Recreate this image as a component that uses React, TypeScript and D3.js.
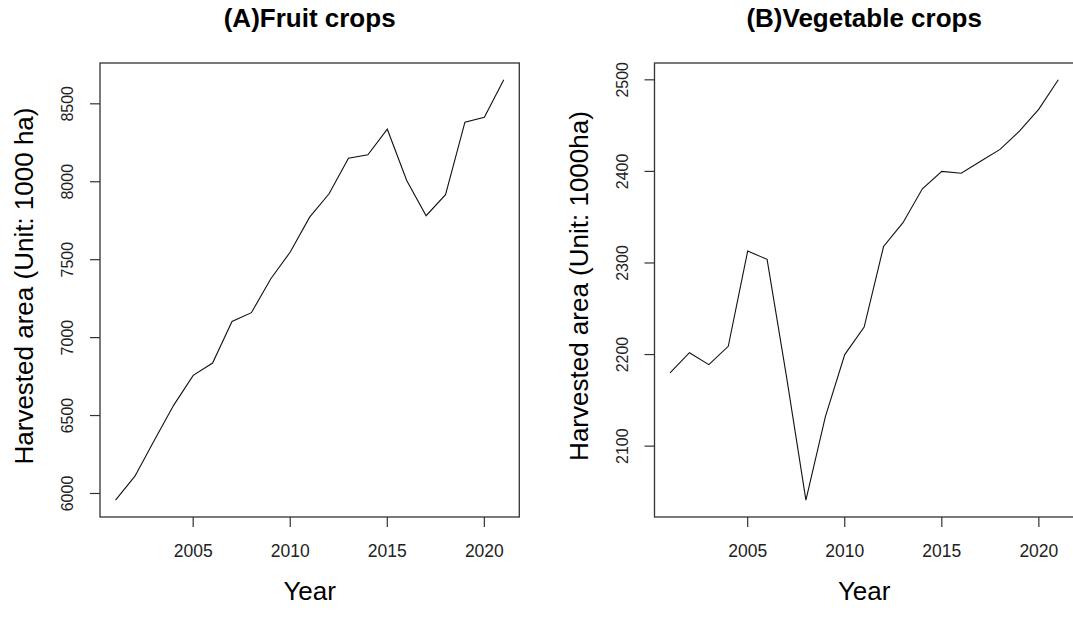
import React from "react";
import * as d3 from "d3";

const years: number[] = [2001, 2002, 2003, 2004, 2005, 2006, 2007, 2008, 2009, 2010, 2011, 2012, 2013, 2014, 2015, 2016, 2017, 2018, 2019, 2020, 2021];
const fruitArea: number[] = [5957, 6111, 6342, 6567, 6758, 6837, 7104, 7160, 7378, 7549, 7773, 7923, 8151, 8173, 8337, 8008, 7782, 7917, 8382, 8414, 8654];
const vegArea: number[] = [2180, 2202, 2189, 2209, 2313, 2304, 2176, 2041, 2132, 2200, 2230, 2318, 2344, 2381, 2400, 2398, 2411, 2424, 2444, 2468, 2500];
const xTicks: number[] = [2005, 2010, 2015, 2020];
const fruitTicks: number[] = [6000, 6500, 7000, 7500, 8000, 8500];
const vegTicks: number[] = [2100, 2200, 2300, 2400, 2500];

const FONT = "'Liberation Sans', Arial, Helvetica, sans-serif";

type PanelProps = {
  left: number;
  title: string;
  ylabel: string;
  values: number[];
  yTicks: number[];
};

function pad(ext: [number, number]): [number, number] {
  const r = ext[1] - ext[0];
  return [ext[0] - 0.04 * r, ext[1] + 0.04 * r];
}

function Panel({ left, title, ylabel, values, yTicks }: PanelProps) {
  const width = 419.3;
  const top = 63;
  const bottom = 517;
  const right = left + width;
  const xs = d3.scaleLinear().domain(pad(d3.extent(years) as [number, number])).range([left, right]);
  const ys = d3.scaleLinear().domain(pad(d3.extent(values) as [number, number])).range([bottom, top]);
  const line = d3
    .line<number>()
    .x((_, i) => xs(years[i]))
    .y((d) => ys(d));
  const cx = (left + right) / 2;
  const cy = (top + bottom) / 2;
  return (
    <g>
      <text x={cx} y={27} textAnchor="middle" fontFamily={FONT} fontWeight="bold" fontSize={26} fill="#000">
        {title}
      </text>
      <rect x={left} y={top} width={width} height={bottom - top} fill="none" stroke="#333" strokeWidth={1.3} />
      <path d={line(values) || ""} fill="none" stroke="#111" strokeWidth={1.1} />
      {xTicks.map((t) => (
        <g key={"x" + t}>
          <line x1={xs(t)} x2={xs(t)} y1={bottom} y2={bottom + 10} stroke="#333" strokeWidth={1.2} />
          <text x={xs(t)} y={557} textAnchor="middle" fontFamily={FONT} fontSize={17.5} fill="#222">
            {t}
          </text>
        </g>
      ))}
      {yTicks.map((t) => (
        <g key={"y" + t}>
          <line x1={left - 10} x2={left} y1={ys(t)} y2={ys(t)} stroke="#333" strokeWidth={1.2} />
          <text
            transform={`translate(${left - 27},${ys(t)}) rotate(-90)`}
            textAnchor="middle"
            fontFamily={FONT}
            fontSize={16}
            fill="#222"
          >
            {t}
          </text>
        </g>
      ))}
      <text x={cx} y={600} textAnchor="middle" fontFamily={FONT} fontSize={26} fill="#000">
        Year
      </text>
      <text
        transform={`translate(${left - 67},${cy - 4}) rotate(-90)`}
        textAnchor="middle"
        fontFamily={FONT}
        fontSize={26}
        fill="#000"
        style={{ whiteSpace: "pre" }}
      >
        {ylabel}
      </text>
    </g>
  );
}

export default function App() {
  return (
    <svg
      width={1073}
      height={619}
      viewBox="0 0 1073 619"
      style={{ position: "absolute", left: 0, top: 0, display: "block", background: "#fff" }}
    >
      <rect x={0} y={0} width={1073} height={619} fill="#fff" />
      <Panel left={100} title="(A)Fruit crops" ylabel="Harvested area (Unit: 1000 ha)" values={fruitArea} yTicks={fruitTicks} />
      <Panel left={654.5} title="(B)Vegetable crops" ylabel="Harvested area (Unit: 1000ha)" values={vegArea} yTicks={vegTicks} />
    </svg>
  );
}
